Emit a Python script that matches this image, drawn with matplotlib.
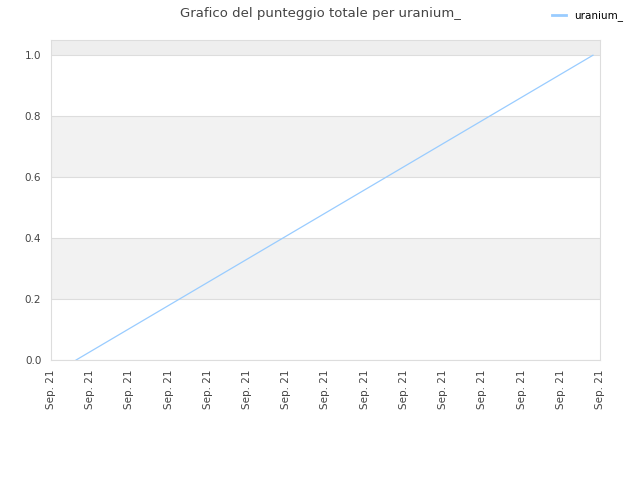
import matplotlib
matplotlib.use("Agg")
import matplotlib.pyplot as plt

# punteggio totale per uranium_
x_pos = [0.64, 13.82]
punteggio = [0.0, 1.0]
tick_pos = list(range(15))
tick_labels = ["Sep. 21"] * 15
bands = [(0.2, 0.4, "#f2f2f2"), (0.6, 0.8, "#f2f2f2"), (1.0, 1.05, "#eeeeee")]

fig = plt.figure(figsize=(6.4, 4.8), dpi=100)
ax = fig.add_axes([51 / 640, 1 - 360 / 480, 549 / 640, 320 / 480])

for lo, hi, c in bands:
    ax.axhspan(lo, hi, color=c, lw=0, zorder=0)

ax.plot(x_pos, punteggio, color="#99ccff", lw=0.9, label="uranium_", zorder=3)

ax.set_xlim(0, 14)
ax.set_ylim(0, 1.05)
ax.set_yticks([0.0, 0.2, 0.4, 0.6, 0.8, 1.0])
ax.set_xticks(tick_pos)
ax.set_xticklabels(tick_labels, rotation=90)
ax.grid(axis="y", color="#dddddd", lw=0.8)
ax.set_axisbelow(True)
ax.tick_params(length=0, labelsize=7.5, colors="#444444", pad=7)
for s in ax.spines.values():
    s.set_color("#dddddd")

fig.text(0.5, 1 - 13 / 480, "Grafico del punteggio totale per uranium_",
         ha="center", va="center", fontsize=9.5, color="#444444")
leg = fig.legend(loc="center left", bbox_to_anchor=(543 / 640, 1 - 16 / 480),
                 frameon=False, fontsize=7.5, handlelength=1.3, handletextpad=0.8)
for h in leg.get_lines():
    h.set_linewidth(2)

fig.savefig("out.png")
